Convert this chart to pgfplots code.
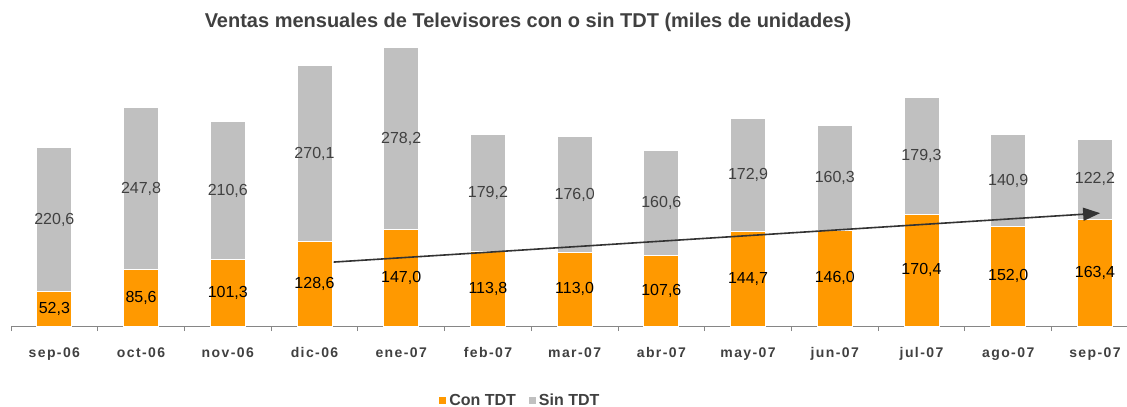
\documentclass[border=0pt]{standalone}
\usepackage{pgfplots}
\pgfplotsset{compat=1.18}
\usepackage{pgfplotstable}
\usepackage{fontspec}
\setmainfont{Liberation Sans}
\newfontfamily\tickfont[LetterSpace=10]{Liberation Sans}
\usetikzlibrary{arrows.meta}
\definecolor{orangeC}{HTML}{FF9900}
\definecolor{grayS}{HTML}{C0C0C0}
\definecolor{txt}{HTML}{404040}
\definecolor{axisg}{HTML}{868686}

\pgfplotstableread{
x con sin
0 52.3 220.6
1 85.6 247.8
2 101.3 210.6
3 128.6 270.1
4 147.0 278.2
5 113.8 179.2
6 113.0 176.0
7 107.6 160.6
8 144.7 172.9
9 146.0 160.3
10 170.4 179.3
11 152.0 140.9
12 163.4 122.2
}\datatable

\begin{document}
\begin{tikzpicture}
\path[use as bounding box] (0,0) rectangle (1127bp,407bp);
\pgfplotsset{
  common/.style={
    at={(11bp,81bp)}, anchor=south west,
    scale only axis, width=1116bp, height=280bp,
    xmin=-0.5, xmax=12.37, ymin=0, ymax=428,
  }
}
\begin{axis}[common,
  clip=false,
  ybar stacked, bar width=35bp,
  axis x line*=bottom, hide y axis,
  axis line style={axisg, line width=0.8bp},
  xtick={0,...,12},
  xticklabels={sep-06,oct-06,nov-06,dic-06,ene-07,feb-07,mar-07,abr-07,may-07,jun-07,jul-07,ago-07,sep-07},
  major tick length=0pt,
  minor xtick={-0.5,0.5,...,11.5},
  minor tick length=5bp,
  tick align=outside,
  minor tick style={axisg, line width=0.8bp},
  xticklabel style={font=\tickfont\bfseries\fontsize{14bp}{16bp}\selectfont, text=txt, anchor=base, yshift=-31bp},
  legend style={at={(0.456,-0.265)}, anchor=center, draw=none, legend columns=2,
    font=\bfseries\fontsize{16bp}{18bp}\selectfont, text=txt,
    /tikz/every even column/.append style={column sep=10bp}},
  legend image code/.code={\fill[#1] (0bp,-4bp) rectangle (8bp,4bp);},
]
\addplot[fill=orangeC, draw=white, line width=1bp] table[x=x, y=con] {\datatable};
\addplot[fill=grayS, draw=white, line width=1bp] table[x=x, y=sin] {\datatable};
\legend{Con TDT, Sin TDT}
\end{axis}
\begin{axis}[common, hide axis, clip=false,
  /pgf/number format/.cd, fixed, fixed zerofill, precision=1, use comma, assume math mode=true,
  /pgfplots/.cd,
  every node near coord/.append style={anchor=center, font=\fontsize{16bp}{18bp}\selectfont},
]
\draw[color=black!80, line width=1.6bp, -{Triangle[length=17bp,width=13bp]}] (axis cs:3.22,97.7) -- (axis cs:12.06,172.5);
\addplot[draw=none, mark=none, nodes near coords, point meta=explicit,
  every node near coord/.append style={text=black}]
  table[x=x, y expr=\thisrow{con}/2, meta=con] {\datatable};
\addplot[draw=none, mark=none, nodes near coords, point meta=explicit,
  every node near coord/.append style={text=txt}]
  table[x=x, y expr=\thisrow{con}+\thisrow{sin}/2, meta=sin] {\datatable};
\end{axis}
\node[font=\bfseries\fontsize{20bp}{22bp}\selectfont, text=txt] at (528bp,385bp) {Ventas mensuales de Televisores con o sin TDT (miles de unidades)};
\end{tikzpicture}
\end{document}
